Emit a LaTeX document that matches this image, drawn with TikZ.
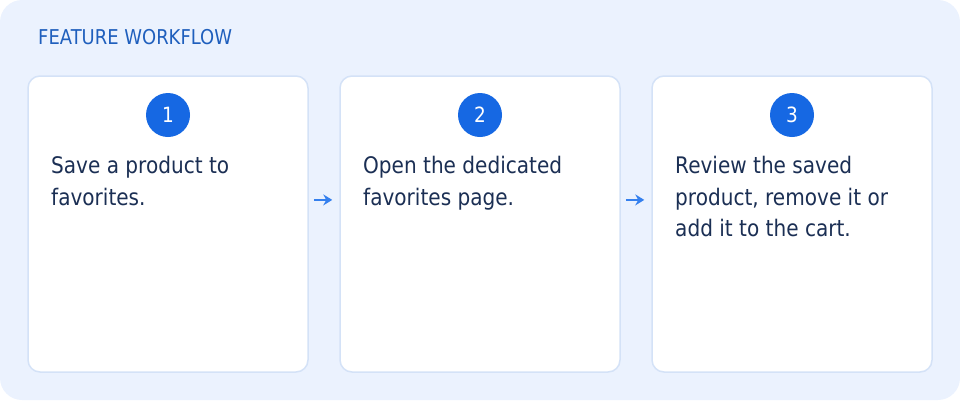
\documentclass[tikz,border=0pt]{standalone}
\usepackage{fontspec}
\setmainfont{DejaVu Sans}[FakeStretch=0.88]
\usetikzlibrary{arrows.meta,calc}
\definecolor{bgblue}{HTML}{EBF2FE}
\definecolor{cardline}{HTML}{D4E2F7}
\definecolor{numblue}{HTML}{1668E3}
\definecolor{arrowblue}{HTML}{3580EE}
\definecolor{ink}{HTML}{1B2F54}
\definecolor{titleblue}{HTML}{1F5FBD}
\tikzset{
  card/.style={draw=cardline, line width=1.5pt, fill=white, rounded corners=12pt,
    minimum width=280pt, minimum height=296pt, inner sep=0pt},
  numdot/.style={circle, fill=numblue, text=white, minimum size=44pt, inner sep=0pt,
    font=\fontsize{21}{24}\selectfont},
  bodytext/.style={anchor=base west, align=left, inner sep=0pt, text=ink,
    font=\fontsize{22.8}{31.5}\selectfont},
  titletext/.style={anchor=base west, inner sep=0pt, text=titleblue,
    font=\fontsize{20.4}{24}\selectfont},
  flow/.style={draw=arrowblue, line width=2pt, -{Stealth[length=9pt,width=11pt,inset=3pt]}}
}
\begin{document}
\begin{tikzpicture}[x=1pt,y=-1pt]
\useasboundingbox (0,0) rectangle (960,400);
\fill[bgblue, rounded corners=22pt] (0,0) rectangle (960,400);
\node[titletext] (title) at (38,44) {FEATURE WORKFLOW};
\node[card] (c1) at (168,224) {};
\node[card] (c2) at (480,224) {};
\node[card] (c3) at (792,224) {};
\node[numdot] (n1) at (168,115) {1};
\node[numdot] (n2) at (480,115) {2};
\node[numdot] (n3) at (792,115) {3};
% base anchor = baseline of the last line
\node[bodytext] (t1) at (51,205) {Save a product to\\favorites.};
\node[bodytext] (t2) at (363,205) {Open the dedicated\\favorites page.};
\node[bodytext] (t3) at (675,236.5) {Review the saved\\product, remove it or\\add it to the cart.};
\draw[flow] ([xshift=5pt]$(c1.north east)!0.419!(c1.south east)$) -- ([xshift=-7pt]$(c2.north west)!0.419!(c2.south west)$);
\draw[flow] ([xshift=5pt]$(c2.north east)!0.419!(c2.south east)$) -- ([xshift=-7pt]$(c3.north west)!0.419!(c3.south west)$);
\end{tikzpicture}
\end{document}
